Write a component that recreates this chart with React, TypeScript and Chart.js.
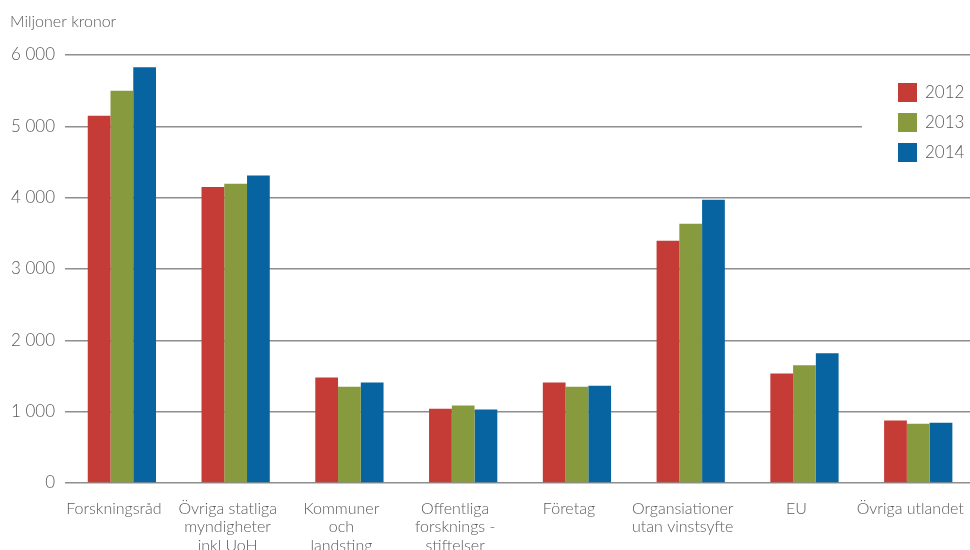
import { useEffect, useRef } from 'react';
import { Chart, registerables } from 'chart.js';

Chart.register(...registerables);

const categories: string[][] = [
  ['Forskningsråd'],
  ['Övriga statliga', 'myndigheter', 'inkl UoH'],
  ['Kommuner', 'och', 'landsting'],
  ['Offentliga', 'forsknings -', 'stiftelser'],
  ['Företag'],
  ['Organsiationer', 'utan vinstsyfte'],
  ['EU'],
  ['Övriga utlandet'],
];

const years = ['2012', '2013', '2014'];
const values2012 = [5150, 4150, 1480, 1040, 1410, 3395, 1535, 875];
const values2013 = [5500, 4195, 1350, 1085, 1350, 3635, 1650, 830];
const values2014 = [5830, 4310, 1410, 1030, 1365, 3970, 1820, 845];
const yTickValues = [0, 1000, 2000, 3000, 4000, 5000, 6000];
const yTickLabels = ['0', '1 000', '2 000', '3 000', '4 000', '5 000', '6 000'];
const unitLabel = 'Miljoner kronor';

const colors = ['#C53B35', '#879B3E', '#0864A0'];
const textColor = '#5a5a5a';
const fontFamily = 'Lato, "Open Sans", sans-serif';
const fontWeight = 300;

export default function App() {
  const canvasRef = useRef<HTMLCanvasElement | null>(null);

  useEffect(() => {
    if (!canvasRef.current) return;

    const legendPlugin = {
      id: 'customLegend',
      afterDraw(chart: any) {
        const ctx = chart.ctx;
        ctx.save();
        ctx.fillStyle = '#ffffff';
        ctx.fillRect(862, 72, chart.width - 862, 100);
        chart.data.datasets.forEach((ds: any, i: number) => {
          const y = 83 + i * 30;
          ctx.fillStyle = ds.backgroundColor;
          ctx.fillRect(898, y, 19, 19);
          ctx.fillStyle = textColor;
          ctx.font = `${fontWeight} 17px ${fontFamily}`;
          ctx.textBaseline = 'middle';
          ctx.textAlign = 'left';
          ctx.fillText(ds.label, 925, y + 10);
        });
        ctx.font = `${fontWeight} 16px ${fontFamily}`;
        ctx.fillStyle = textColor;
        ctx.textBaseline = 'middle';
        ctx.fillText(unitLabel, 10, 22);
        ctx.restore();
      },
    };

    const chart = new Chart(canvasRef.current, {
      type: 'bar',
      data: {
        labels: categories,
        datasets: [values2012, values2013, values2014].map((vals, i) => ({
          label: years[i],
          data: vals,
          backgroundColor: colors[i],
          borderWidth: 0,
          barPercentage: 1,
          categoryPercentage: 0.6,
        })),
      },
      options: {
        responsive: false,
        animation: false,
        devicePixelRatio: 1,
        layout: { padding: { top: 55, left: 0, right: 3.6, bottom: 0 } },
        plugins: {
          legend: { display: false },
          tooltip: { enabled: false },
          title: { display: false },
        },
        scales: {
          x: {
            grid: { display: false, drawTicks: false },
            border: { display: false },
            ticks: {
              color: textColor,
              font: { family: fontFamily, size: 16, weight: fontWeight as any, lineHeight: 1.17 },
              padding: 16,
              labelOffset: -8,
              maxRotation: 0,
              minRotation: 0,
              autoSkip: false,
            },
            afterFit(axis: any) {
              axis.height = 67;
            },
          },
          y: {
            min: 0,
            max: 6000,
            afterBuildTicks(axis: any) {
              axis.ticks = yTickValues.map((v) => ({ value: v }));
            },
            grid: { color: '#8e8e8e', lineWidth: 1.6, drawTicks: false },
            border: { display: false },
            ticks: {
              color: textColor,
              font: { family: fontFamily, size: 17, weight: fontWeight as any },
              padding: 10,
              callback: (value: any) => {
                const idx = yTickValues.indexOf(Number(value));
                return idx >= 0 ? yTickLabels[idx] : '';
              },
            },
            afterFit(axis: any) {
              axis.width = 65;
            },
          },
        },
      },
      plugins: [legendPlugin],
    });

    return () => chart.destroy();
  }, []);

  return (
    <div
      style={{
        position: 'fixed',
        left: 0,
        top: 0,
        width: 970,
        height: 550,
        overflow: 'hidden',
        background: '#ffffff',
      }}
    >
      <canvas ref={canvasRef} width={988} height={550} style={{ display: 'block' }} />
    </div>
  );
}
